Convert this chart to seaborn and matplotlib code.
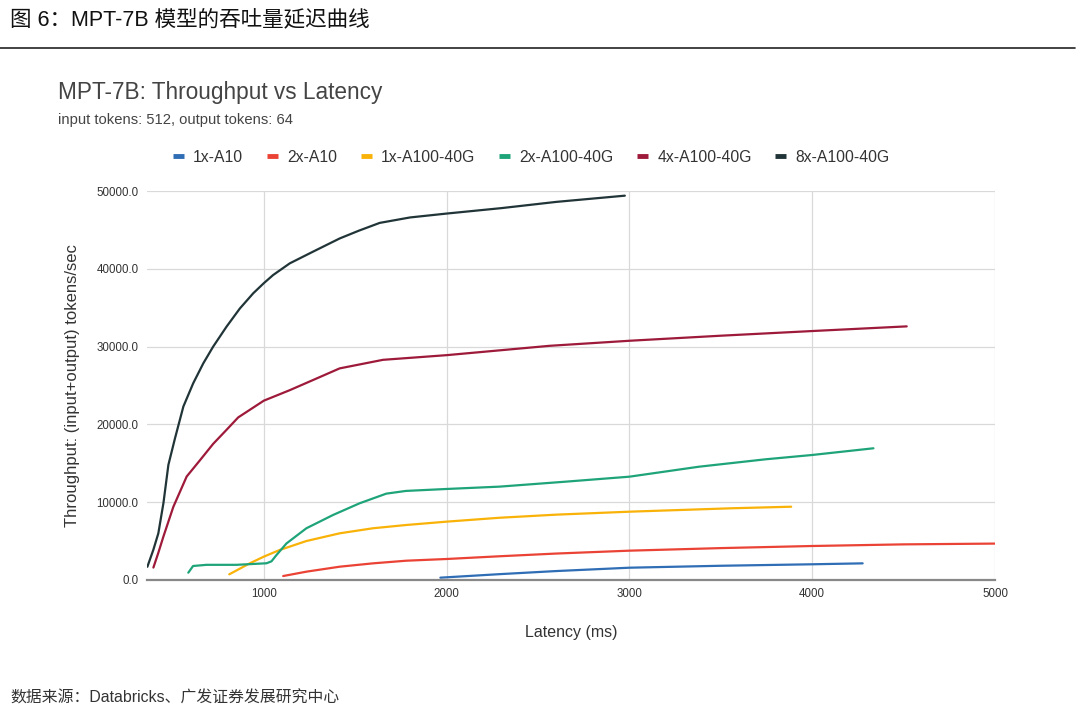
import numpy as np
import pandas as pd
import matplotlib
matplotlib.use("Agg")
import matplotlib.pyplot as plt
import seaborn as sns

# values (latency ms, throughput tokens/sec)
a10_1x_lat = [1966, 2289, 2600, 3000, 3500, 4000, 4276]
a10_1x_thr = [300, 750, 1150, 1580, 1830, 2020, 2140]

a10_2x_lat = [1106, 1233, 1415, 1597, 1779, 2000, 2289, 2600, 3000, 3500, 4000, 4500, 5000]
a10_2x_thr = [510, 1070, 1710, 2140, 2480, 2700, 3050, 3400, 3770, 4100, 4370, 4580, 4680]

a100_1x_lat = [811, 923, 1000, 1087, 1233, 1415, 1597, 1779, 2000, 2289, 2600, 3000, 3560, 3885]
a100_1x_thr = [730, 2140, 3000, 3860, 5010, 6000, 6650, 7070, 7500, 8000, 8400, 8780, 9220, 9420]

a100_2x_lat = [587, 613, 686, 850, 1015, 1042, 1069, 1124, 1233, 1379, 1524, 1670, 1778,
               2000, 2289, 2652, 3000, 3380, 3743, 4000, 4335]
a100_2x_thr = [940, 1800, 1950, 1950, 2150, 2400, 3200, 4700, 6650, 8360, 9860, 11100, 11450,
               11700, 12000, 12640, 13280, 14560, 15510, 16070, 16930]

a100_4x_lat = [396, 423, 451, 505, 578, 651, 723, 796, 860, 1000, 1142, 1269, 1415, 1652,
               2000, 2563, 3000, 3500, 4000, 4517]
a100_4x_thr = [1600, 3500, 5600, 9400, 13300, 15400, 17500, 19300, 20900, 23050, 24400, 25700, 27200, 28300,
               28900, 30100, 30750, 31400, 32000, 32600]

a100_8x_lat = [363, 396, 423, 451, 478, 514, 560, 614, 669, 723, 796, 869, 942, 1000, 1051,
               1142, 1269, 1415, 1520, 1634, 1800, 2000, 2300, 2600, 2975]
a100_8x_thr = [1700, 3900, 6000, 9900, 14800, 18200, 22300, 25300, 27850, 30000, 32560, 34900, 36850,
               38150, 39200, 40700, 42200, 43900, 44900, 45900, 46600, 47100, 47800, 48600, 49400]

series_names = ['1x-A10', '2x-A10', '1x-A100-40G', '2x-A100-40G', '4x-A100-40G', '8x-A100-40G']
series_lat = [a10_1x_lat, a10_2x_lat, a100_1x_lat, a100_2x_lat, a100_4x_lat, a100_8x_lat]
series_thr = [a10_1x_thr, a10_2x_thr, a100_1x_thr, a100_2x_thr, a100_4x_thr, a100_8x_thr]
series_colors = ['#2f6db5', '#ea4335', '#f9b208', '#1fa47a', '#9e1a3a', '#213538']

x_ticks = [1000, 2000, 3000, 4000, 5000]
y_ticks = [0, 10000, 20000, 30000, 40000, 50000]

frames = []
for name, lat, thr in zip(series_names, series_lat, series_thr):
    frames.append(pd.DataFrame({'latency': lat, 'throughput': thr, 'config': name}))
df = pd.concat(frames, ignore_index=True)

sns.set_theme(style='white')
plt.rcParams['font.family'] = ['Liberation Sans', 'Noto Sans CJK SC', 'DejaVu Sans']

fig = plt.figure(figsize=(10.8, 7.18), dpi=100)
ax = fig.add_axes([147 / 1080, 138 / 718, 848 / 1080, 389 / 718])

sns.lineplot(data=df, x='latency', y='throughput', hue='config', hue_order=series_names,
             palette=dict(zip(series_names, series_colors)), estimator=None,
             linewidth=1.6, ax=ax, legend=False)

ax.set_xlim(361, 5000)
ax.set_ylim(0, 50000)
ax.set_xticks(x_ticks)
ax.set_yticks(y_ticks)
ax.set_xticklabels([str(t) for t in x_ticks], fontsize=8.3, color='#333333')
ax.set_yticklabels([f'{t:.1f}' for t in y_ticks], fontsize=8.3, color='#333333')
ax.tick_params(axis='both', length=0, pad=6)
ax.grid(True, color='#d9d9d9', linewidth=0.9)
ax.set_axisbelow(True)
for side in ['top', 'right', 'left']:
    ax.spines[side].set_visible(False)
ax.spines['bottom'].set_color('#888888')
ax.spines['bottom'].set_linewidth(1.6)
ax.set_xlabel('Latency (ms)', fontsize=11.5, color='#333333', labelpad=18)
ax.set_ylabel('Throughput: (input+output) tokens/sec', fontsize=12, color='#333333', labelpad=12)

# legend with short thick markers
handles = [plt.Line2D([0], [0], color=c, linewidth=3.5, solid_capstyle='butt') for c in series_colors]
fig.legend(handles, series_names, loc='center', bbox_to_anchor=(0.492, 1 - 157 / 718), ncol=6,
           frameon=False, fontsize=11.3, handlelength=0.7, handletextpad=0.6, columnspacing=1.5,
           labelcolor='#333333')

# titles
fig.text(58 / 1080, 1 - 93 / 718, 'MPT-7B: Throughput vs Latency', fontsize=16.3, color='#444444',
         va='center', ha='left')
fig.text(58 / 1080, 1 - 120 / 718, 'input tokens: 512, output tokens: 64', fontsize=10.6, color='#444444',
         va='center', ha='left')

fig.text(10 / 1080, 1 - 20 / 718, '图 6：MPT-7B 模型的吞吐量延迟曲线', fontsize=15.5, color='#111111',
         va='center', ha='left', fontweight='medium')
fig.add_artist(plt.Line2D([0, 1075 / 1080], [1 - 48 / 718, 1 - 48 / 718], color='#222222',
                          linewidth=1.2, transform=fig.transFigure))
fig.text(10 / 1080, 1 - 698 / 718, '数据来源：Databricks、广发证券发展研究中心', fontsize=11.4, color='#333333',
         va='center', ha='left')

fig.savefig('out.png', dpi=100)
